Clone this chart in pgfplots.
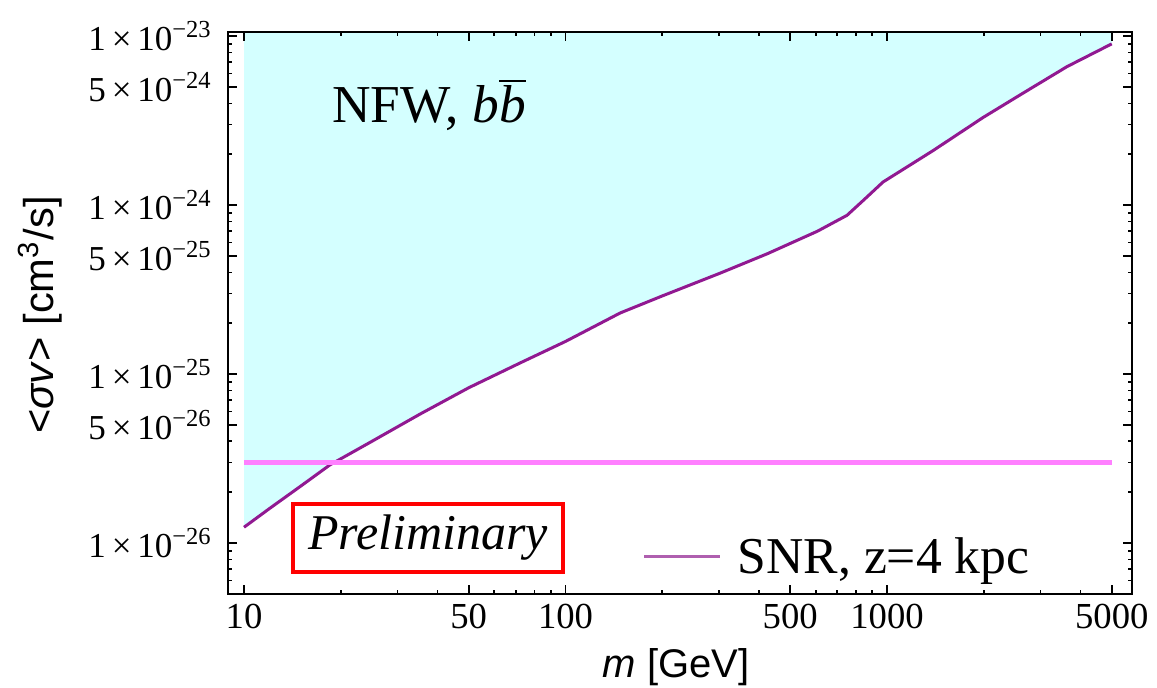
\documentclass[border=0pt]{standalone}
\usepackage{pgfplots}
\pgfplotsset{compat=1.18}
\usepackage{fontspec}
\setmainfont{Liberation Serif}
\setsansfont{Liberation Sans}
\definecolor{fillc}{RGB}{212,255,255}
\definecolor{curvec}{RGB}{145,25,145}
\definecolor{pinkc}{RGB}{255,128,255}
\definecolor{legc}{RGB}{175,95,175}
\begin{document}
\begin{tikzpicture}
\useasboundingbox (-68.4pt,-27.9pt) rectangle (278.7pt,178.2pt);
\begin{axis}[
  at={(0pt,0pt)}, anchor=south west,
  scale only axis, width=271.2pt, height=168.6pt,
  xmode=log, ymode=log,
  xmin=8.917, xmax=5781, ymin=4.99e-27, ymax=1.057e-23,
  axis line style={line width=0.7pt},
  tick align=inside,
  major tick length=2.7pt, minor tick length=1.3pt,
  every tick/.style={black, line width=0.5pt},
  xtick={10,50,100,500,1000,5000},
  xticklabels={10,50,100,500,1000,5000},
  minor xtick={20,30,40,60,70,80,90,200,300,400,600,700,800,900,2000,3000,4000},
  ytick={1e-26,5e-26,1e-25,5e-25,1e-24,5e-24,1e-23},
  yticklabels={1\,×\,10\textsuperscript{−26},5\,×\,10\textsuperscript{−26},1\,×\,10\textsuperscript{−25},5\,×\,10\textsuperscript{−25},1\,×\,10\textsuperscript{−24},5\,×\,10\textsuperscript{−24},1\,×\,10\textsuperscript{−23}},
  minor ytick={6e-27,7e-27,8e-27,9e-27,2e-26,3e-26,4e-26,6e-26,7e-26,8e-26,9e-26,2e-25,3e-25,4e-25,6e-25,7e-25,8e-25,9e-25,2e-24,3e-24,4e-24,6e-24,7e-24,8e-24,9e-24},
  xticklabel style={font=\fontsize{11}{13}\selectfont, inner sep=0pt, yshift=-2.7pt},
  yticklabel style={font=\fontsize{10.5}{12}\selectfont, inner sep=0pt, xshift=-4.5pt},
  axis on top,
]
\addplot[draw=none, fill=fillc] coordinates {
(10,1.24e-26) (12,1.6e-26) (15,2.17e-26) (18.5,2.9e-26) (25,4.0e-26) (35.3,5.8e-26)
(50,8.3e-26) (72,1.16e-25) (100,1.56e-25) (148,2.3e-25) (200,2.9e-25) (303,3.96e-25)
(424,5.15e-25) (607,7.0e-25) (751,8.7e-25) (850,1.08e-24) (972,1.37e-24) (1390,2.1e-24)
(1990,3.3e-24) (2650,4.6e-24) (3630,6.6e-24) (5000,9.0e-24) (5000,2e-23) (10,2e-23)
} -- cycle;
\addplot[curvec, line width=0.9pt] coordinates {
(10,1.24e-26) (12,1.6e-26) (15,2.17e-26) (18.5,2.9e-26) (25,4.0e-26) (35.3,5.8e-26)
(50,8.3e-26) (72,1.16e-25) (100,1.56e-25) (148,2.3e-25) (200,2.9e-25) (303,3.96e-25)
(424,5.15e-25) (607,7.0e-25) (751,8.7e-25) (850,1.08e-24) (972,1.37e-24) (1390,2.1e-24)
(1990,3.3e-24) (2650,4.6e-24) (3630,6.6e-24) (5000,9.0e-24)
};
\addplot[pinkc, line width=1.3pt] coordinates {(10,3e-26) (5000,3e-26)};
\end{axis}
\node[font=\fontsize{16}{18}\selectfont, anchor=center] at (60.3pt,146.7pt) {NFW, \textit{b}$\overline{\mbox{\textit{b}}}$};
\node[draw=red, line width=1.2pt, minimum width=81pt, minimum height=20.4pt, inner sep=0pt, font=\itshape\fontsize{15}{17}\selectfont] at (60pt,16.8pt) {Preliminary};
\draw[legc, line width=0.9pt] (124.8pt,11.4pt) -- (147.6pt,11.4pt);
\node[anchor=base west, inner sep=0pt, font=\fontsize{15.5}{17}\selectfont] at (152.7pt,6.3pt) {SNR, z=4 kpc};
\node[rotate=90, font=\sffamily\fontsize{12.5}{14}\selectfont] at (-56.4pt,83.7pt) {\textless\textit{σv}\textgreater\ [cm\textsuperscript{3}/s]};
\node[anchor=north, inner sep=0pt, font=\sffamily\fontsize{12}{14}\selectfont] at (134.4pt,-16.2pt) {\textit{m} [GeV]};
\end{tikzpicture}
\end{document}
